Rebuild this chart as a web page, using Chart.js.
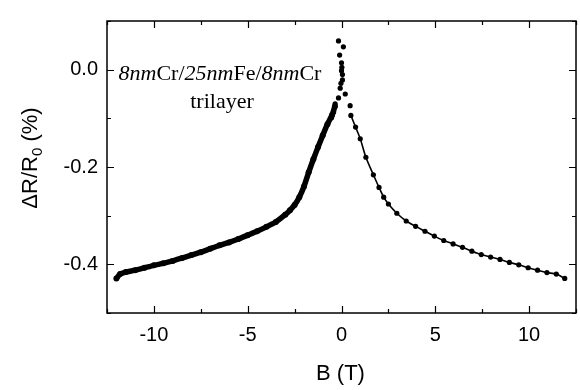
<!DOCTYPE html>
<html>
<head>
<meta charset="utf-8">
<script src="https://cdn.jsdelivr.net/npm/chart.js@4/dist/chart.umd.min.js"></script>
<style>
  html, body { margin: 0; padding: 0; background: #fff; }
  #wrap { width: 580px; height: 390px; }
</style>
</head>
<body>
<div id="wrap"><canvas id="mrChart" width="580" height="390"></canvas></div>
<script>
// field sweep, negative side (dense data)
const leftB = [-12.0, -11.8, -11.5, -11.0, -10.5, -10.0, -9.5, -9.0, -8.5, -8.0, -7.5, -7.0, -6.5, -6.0, -5.5, -5.0,
               -4.5, -4.0, -3.5, -3.0, -2.75, -2.5, -2.25, -2.0, -1.75, -1.5, -1.25, -1.0, -0.75, -0.5, -0.35];
const leftR = [-0.429, -0.420, -0.416, -0.412, -0.407, -0.402, -0.398, -0.393, -0.387, -0.381, -0.375, -0.368, -0.361, -0.355, -0.348, -0.340,
               -0.332, -0.323, -0.313, -0.298, -0.289, -0.278, -0.262, -0.240, -0.211, -0.184, -0.159, -0.135, -0.112, -0.093, -0.075];

// scattered points round zero field
const peakB = [-0.53, -0.42, -0.34, -0.16, -0.07, -0.03, 0.05, 0.05, 0.0, 0.02, 0.0, -0.1, -0.16, 0.1, 0.2, 0.46];
const peakR = [-0.099, -0.087, -0.070, -0.058, -0.038, -0.028, -0.021, -0.010, -0.002, 0.005, 0.014, 0.030, 0.059, 0.047, -0.050, -0.074];

// positive side
const rightB = [0.5, 0.75, 1.0, 1.3, 1.7, 2.0, 2.25, 2.5, 2.95, 3.45, 3.95, 4.45, 4.95, 5.45, 5.95, 6.45,
                6.95, 7.45, 7.95, 8.45, 8.95, 9.45, 9.95, 10.45, 10.95, 11.45, 11.9];
const rightR = [-0.094, -0.118, -0.142, -0.180, -0.216, -0.242, -0.262, -0.276, -0.295, -0.311, -0.322, -0.332, -0.342, -0.351, -0.358, -0.365,
                -0.373, -0.380, -0.385, -0.390, -0.396, -0.401, -0.407, -0.412, -0.417, -0.420, -0.429];

const xTicks = [-10, -5, 0, 5, 10];
const xMinor = [-12.5, -7.5, -2.5, 2.5, 7.5, 12.5];
const yTicks = [0.0, -0.2, -0.4];
const yMinor = [0.1, -0.1, -0.3, -0.5];

const toPts = (xs, ys) => xs.map((x, i) => ({ x: x, y: ys[i] }));

// frame, inward ticks, axis titles and the sample label
const decorations = {
    id: 'decorations',
    afterDraw(chart) {
        const ctx = chart.ctx;
        const a = chart.chartArea;
        const xs = chart.scales.x, ys = chart.scales.y;
        ctx.save();
        ctx.strokeStyle = '#000';
        ctx.lineWidth = 1.5;
        ctx.strokeRect(a.left, a.top, a.right - a.left, a.bottom - a.top);

        ctx.lineWidth = 1.2;
        ctx.beginPath();
        const tickX = (v, len) => {
            const px = Math.round(xs.getPixelForValue(v)) + 0.5;
            ctx.moveTo(px, a.bottom); ctx.lineTo(px, a.bottom - len);
            ctx.moveTo(px, a.top); ctx.lineTo(px, a.top + len);
        };
        const tickY = (v, len) => {
            const py = Math.round(ys.getPixelForValue(v)) + 0.5;
            ctx.moveTo(a.left, py); ctx.lineTo(a.left + len, py);
            ctx.moveTo(a.right, py); ctx.lineTo(a.right - len, py);
        };
        xTicks.forEach(v => tickX(v, 7));
        xMinor.forEach(v => tickX(v, 4));
        yTicks.forEach(v => tickY(v, 7));
        yMinor.forEach(v => tickY(v, 4));
        ctx.stroke();

        ctx.fillStyle = '#000';
        // x title
        ctx.font = '22px "Liberation Sans", Arial, sans-serif';
        ctx.textAlign = 'center';
        ctx.textBaseline = 'alphabetic';
        ctx.fillText('B (T)', (a.left + a.right) / 2 - 1, 380);

        // y title with subscript
        ctx.save();
        ctx.translate(37, 158);
        ctx.rotate(-Math.PI / 2);
        const partA = '\u0394R/R', partB = '0', partC = ' (%)';
        ctx.font = '22px "Liberation Sans", Arial, sans-serif';
        const wA = ctx.measureText(partA).width, wC = ctx.measureText(partC).width;
        ctx.font = '15px "Liberation Sans", Arial, sans-serif';
        const wB = ctx.measureText(partB).width;
        let x0 = -(wA + wB + wC) / 2;
        ctx.textAlign = 'left';
        ctx.font = '22px "Liberation Sans", Arial, sans-serif';
        ctx.fillText(partA, x0, 0);
        ctx.font = '15px "Liberation Sans", Arial, sans-serif';
        ctx.fillText(partB, x0 + wA, 5);
        ctx.font = '22px "Liberation Sans", Arial, sans-serif';
        ctx.fillText(partC, x0 + wA + wB, 0);
        ctx.restore();

        // sample label, italic thicknesses
        const parts = [['8', 'italic'], ['nm', 'italic'], ['Cr/', ''], ['25', 'italic'], ['nm', 'italic'],
                       ['Fe/', ''], ['8', 'italic'], ['nm', 'italic'], ['Cr', '']];
        const fontFor = s => (s ? s + ' ' : '') + '22px "Liberation Serif", "Times New Roman", serif';
        let total = 0;
        parts.forEach(p => { ctx.font = fontFor(p[1]); total += ctx.measureText(p[0]).width; });
        let cx = 220 - total / 2;
        ctx.textAlign = 'left';
        parts.forEach(p => {
            ctx.font = fontFor(p[1]);
            ctx.fillText(p[0], cx, 80);
            cx += ctx.measureText(p[0]).width;
        });
        ctx.font = fontFor('');
        ctx.textAlign = 'center';
        ctx.fillText('trilayer', 222, 108);
        ctx.restore();
    }
};

const ctx = document.getElementById('mrChart').getContext('2d');
new Chart(ctx, {
    type: 'scatter',
    data: {
        datasets: [
            {
                data: toPts(leftB, leftR),
                showLine: true,
                borderColor: '#000',
                backgroundColor: '#000',
                borderWidth: 5.5,
                pointBorderWidth: 0,
                pointRadius: 3,
                tension: 0.2
            },
            {
                data: toPts(peakB, peakR),
                showLine: false,
                borderColor: '#000',
                backgroundColor: '#000',
                pointBorderWidth: 0,
                pointRadius: 2.6
            },
            {
                data: toPts(rightB, rightR),
                showLine: true,
                borderColor: '#000',
                backgroundColor: '#000',
                borderWidth: 1.6,
                pointBorderWidth: 0,
                pointRadius: 2.6,
                tension: 0.3
            }
        ]
    },
    options: {
        responsive: false,
        animation: false,
        events: [],
        layout: { padding: { top: 5, right: 2, left: 0, bottom: 0 } },
        plugins: { legend: { display: false }, tooltip: { enabled: false } },
        scales: {
            x: {
                type: 'linear',
                min: -12.5,
                max: 12.5,
                afterBuildTicks: s => { s.ticks = xTicks.map(v => ({ value: v })); },
                afterFit: s => { s.height = 77; },
                grid: { display: false, drawTicks: false },
                border: { display: false },
                ticks: {
                    padding: 10,
                    color: '#000',
                    font: { family: '"Liberation Sans", Arial, sans-serif', size: 20 },
                    callback: v => String(v)
                }
            },
            y: {
                type: 'linear',
                min: -0.5,
                max: 0.1,
                afterBuildTicks: s => { s.ticks = yTicks.map(v => ({ value: v })); },
                afterFit: s => { s.width = 107; },
                grid: { display: false, drawTicks: false },
                border: { display: false },
                ticks: {
                    padding: 9,
                    color: '#000',
                    font: { family: '"Liberation Sans", Arial, sans-serif', size: 20 },
                    callback: v => v.toFixed(1)
                }
            }
        }
    },
    plugins: [decorations]
});
</script>
</body>
</html>
